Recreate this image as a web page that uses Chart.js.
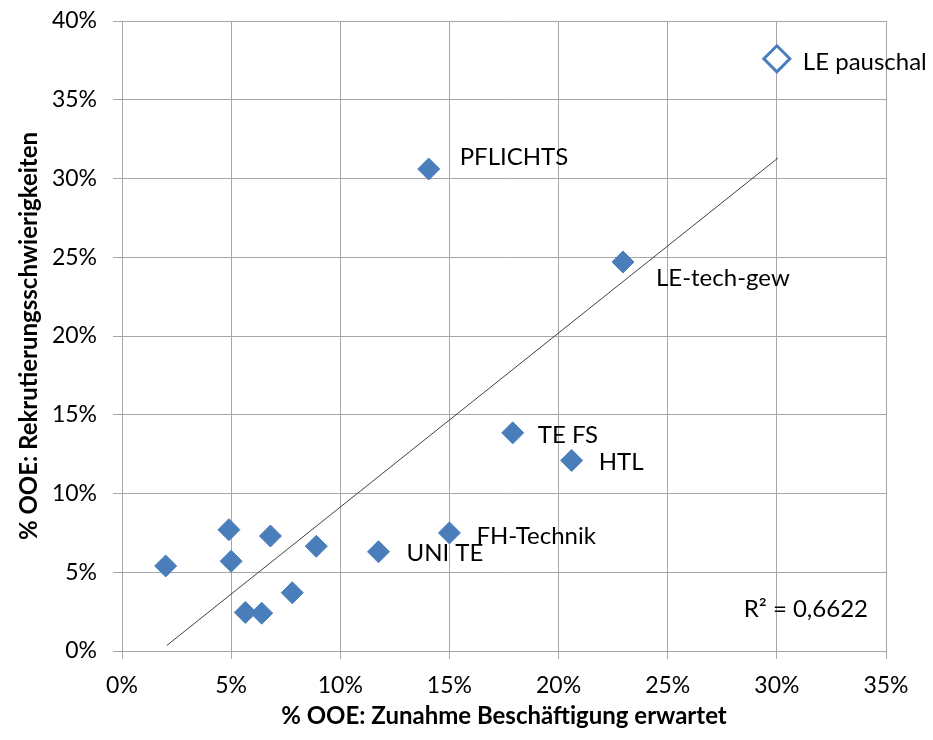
<!DOCTYPE html>
<html>
<head>
<meta charset="utf-8">
<script src="https://cdn.jsdelivr.net/npm/chart.js@4"></script>
<style>
  body { margin: 0; background: #fff; }
  #wrap { width: 933px; height: 740px; position: relative; }
</style>
</head>
<body>
<div id="wrap"><canvas id="chart"></canvas></div>
<script>
// Zunahme Beschäftigung erwartet (%) / Rekrutierungsschwierigkeiten (%)
const names = ['', '', '', '', '', 'UNI TE', 'FH-Technik', '', '', '', 'PFLICHTS', 'LE-tech-gew', 'TE FS', 'HTL'];
const xVals = [2.0, 4.9, 5.0, 6.8, 8.9, 11.75, 15.0, 7.8, 5.65, 6.4, 14.05, 22.95, 17.9, 20.6];
const yVals = [5.4, 7.7, 5.7, 7.3, 6.65, 6.3, 7.5, 3.7, 2.45, 2.4, 30.6, 24.7, 13.85, 12.1];

// hollow marker
const outlierName = 'LE pauschal';
const outlierX = 30.0;
const outlierY = 37.6;

// linear trendline end points
const trendX = [2.05, 30.05];
const trendY = [0.35, 31.3];
const rSquared = 'R² = 0,6622';

const xTicks = [0, 5, 10, 15, 20, 25, 30, 35];
const yTicks = [0, 5, 10, 15, 20, 25, 30, 35, 40];

// label offsets in px from the marker (dx to text start, dy to text middle)
const labelOffsets = {
  'UNI TE': [28, 1],
  'FH-Technik': [27, 3],
  'PFLICHTS': [31, -12],
  'LE-tech-gew': [33, 16],
  'TE FS': [25, 2],
  'HTL': [27, 2],
  'LE pauschal': [26, 3]
};

const blue = '#4a7ebb';
const gridColor = '#a6a6a6';
const font = 'Lato, Calibri, sans-serif';

const labelPlugin = {
  id: 'pointLabels',
  afterDatasetsDraw(chart) {
    const ctx = chart.ctx;
    const xs = chart.scales.x, ys = chart.scales.y;
    ctx.save();
    ctx.font = '24px ' + font;
    ctx.fillStyle = '#000';
    ctx.textBaseline = 'middle';
    ctx.textAlign = 'left';
    const put = (name, x, y) => {
      if (!name) return;
      const off = labelOffsets[name] || [25, 0];
      ctx.fillText(name, xs.getPixelForValue(x) + off[0], ys.getPixelForValue(y) + off[1]);
    };
    names.forEach((n, i) => put(n, xVals[i], yVals[i]));
    put(outlierName, outlierX, outlierY);

    // R² of the trendline
    const area = chart.chartArea;
    ctx.textAlign = 'right';
    ctx.fillText(rSquared, area.right - 18, area.bottom - 42);
    ctx.restore();
  }
};

new Chart(document.getElementById('chart'), {
  type: 'scatter',
  data: {
    datasets: [
      {
        data: xVals.map((x, i) => ({ x, y: yVals[i] })),
        pointStyle: 'rectRot',
        pointRadius: 11,
        pointHoverRadius: 11,
        backgroundColor: blue,
        borderColor: blue,
        borderWidth: 1
      },
      {
        data: [{ x: outlierX, y: outlierY }],
        pointStyle: 'rectRot',
        pointRadius: 13,
        pointHoverRadius: 13,
        backgroundColor: '#fff',
        borderColor: blue,
        borderWidth: 3
      },
      {
        type: 'line',
        data: trendX.map((x, i) => ({ x, y: trendY[i] })),
        borderColor: '#404040',
        borderWidth: 1,
        pointRadius: 0,
        fill: false
      }
    ]
  },
  options: {
    responsive: true,
    maintainAspectRatio: false,
    animation: false,
    events: [],
    layout: { padding: { left: 0, right: 47, top: 21, bottom: 0 } },
    plugins: {
      legend: { display: false },
      tooltip: { enabled: false }
    },
    scales: {
      x: {
        type: 'linear',
        min: 0,
        max: 35,
        afterBuildTicks: s => { s.ticks = xTicks.map(v => ({ value: v })); },
        afterFit: s => { s.height = 89; },
        grid: { color: gridColor, lineWidth: 1, tickLength: 8 },
        border: { color: gridColor },
        ticks: {
          padding: 13,
          color: '#000',
          font: { family: font, size: 23 },
          callback: v => v + '%',
          maxRotation: 0
        },
        title: {
          display: true,
          text: '% OOE: Zunahme Beschäftigung erwartet',
          color: '#000',
          font: { family: font, size: 24, weight: 'bold' },
          padding: { top: 0, bottom: 9 }
        }
      },
      y: {
        type: 'linear',
        min: 0,
        max: 40,
        afterBuildTicks: s => { s.ticks = yTicks.map(v => ({ value: v })); },
        afterFit: s => { s.width = 122; s.paddingTop = 0; s.paddingBottom = 0; },
        grid: { color: gridColor, lineWidth: 1, tickLength: 9 },
        border: { color: gridColor },
        ticks: {
          padding: 16,
          color: '#000',
          font: { family: font, size: 23 },
          callback: v => v + '%'
        },
        title: {
          display: true,
          text: '% OOE: Rekrutierungsschwierigkeiten',
          color: '#000',
          font: { family: font, size: 24, weight: 'bold' },
          padding: { top: 15, bottom: 0 }
        }
      }
    }
  },
  plugins: [labelPlugin]
});
</script>
</body>
</html>
